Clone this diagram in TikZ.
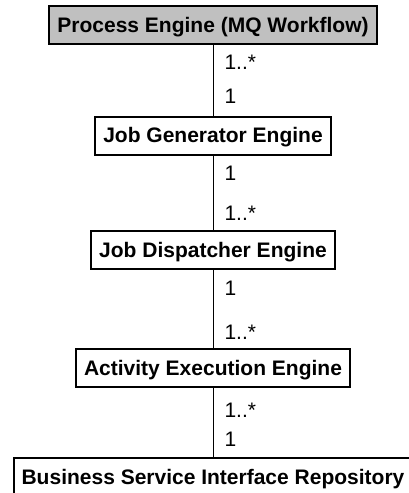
\documentclass[tikz,border=0pt]{standalone}
\usepackage{fontspec}
\setmainfont{Liberation Sans}
\usepackage{xcolor}
\definecolor{rootfill}{HTML}{C0C0C0}
\tikzset{
  engine/.style={draw=black, line width=2pt, fill=white, font=\bfseries\fontsize{21}{25}\selectfont,
    minimum height=38pt, inner xsep=8pt, text height=16pt, text depth=2pt},
  rootengine/.style={engine, fill=rootfill},
  assoc/.style={draw=black, line width=1pt},
  mult/.style={font=\fontsize{21}{25}\selectfont, anchor=west, inner xsep=11pt, inner ysep=0pt}
}

\begin{document}
\begin{tikzpicture}[x=1pt, y=1pt]
  \useasboundingbox (0,0) rectangle (409,-493);

  % engine chain, top to bottom
  \node[rootengine] (pe) at (213,-25) {Process Engine (MQ Workflow)};
  \node[engine] (jg) at (213,-135.5) {Job Generator Engine};
  \node[engine] (jd) at (213,-250) {Job Dispatcher Engine};
  \node[engine] (ae) at (213,-368) {Activity Execution Engine};
  \node[engine] (bsir) at (213,-477) {Business Service Interface Repository};

  % associations with multiplicities
  \draw[assoc] (pe) -- node[mult, pos=0.25] {1..*} node[mult, pos=0.73] {1} (jg);
  \draw[assoc] (jg) -- node[mult, pos=0.24] {1} node[mult, pos=0.77] {1..*} (jd);
  \draw[assoc] (jd) -- node[mult, pos=0.24] {1} node[mult, pos=0.8] {1..*} (ae);
  \draw[assoc] (ae) -- node[mult, pos=0.32] {1..*} node[mult, pos=0.75] {1} (bsir);
\end{tikzpicture}
\end{document}
